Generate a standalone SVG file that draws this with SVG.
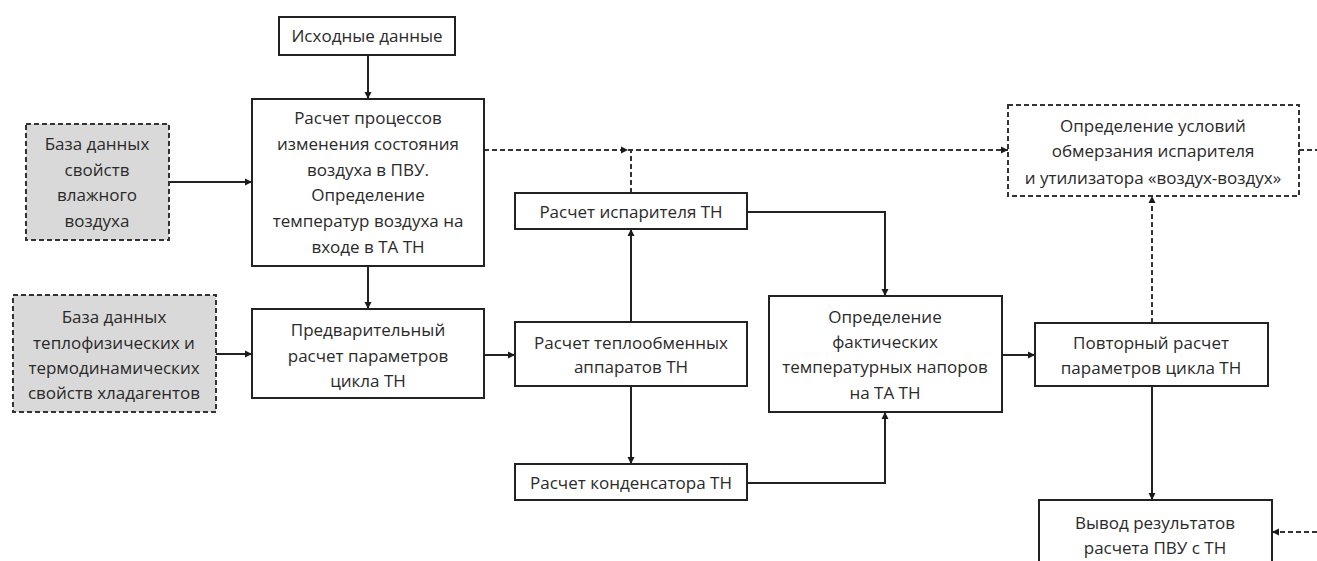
<svg xmlns="http://www.w3.org/2000/svg" width="1317" height="561" viewBox="0 0 1317 561">
<defs>
<marker id="ah" markerUnits="userSpaceOnUse" markerWidth="8" markerHeight="8" refX="7" refY="4" orient="auto">
<path d="M0,0.5 L7,4 L0,7.5 Z" fill="#1a1a1a"/>
</marker>
<style>
.box{fill:#fff;stroke:#222;stroke-width:2}
.db{fill:#d9d9d9;stroke:#333;stroke-width:2;stroke-dasharray:5 3}
.dbox{fill:#fff;stroke:#333;stroke-width:2;stroke-dasharray:5 3}
.t{font-family:"Open Sans","DejaVu Sans",sans-serif;font-size:17px;fill:#2a2a2a;text-anchor:middle}
.c{fill:none;stroke:#222;stroke-width:2;marker-end:url(#ah)}
.cd{fill:none;stroke:#333;stroke-width:2;stroke-dasharray:5 3}
.cda{fill:none;stroke:#333;stroke-width:2;stroke-dasharray:5 3;marker-end:url(#ah)}
</style>
</defs>
<rect width="1317" height="561" fill="#fff"/>
<g id="connectors">
<path class="c" d="M368,55 V99"/>
<path class="c" d="M169,182 H252"/>
<path class="c" d="M368,266 V309"/>
<path class="c" d="M216,354 H252"/>
<path class="c" d="M484,355 H515"/>
<path class="c" d="M631,322 V229"/>
<path class="c" d="M631,386 V464"/>
<path class="c" d="M747,212 H885 V296"/>
<path class="c" d="M747,483 H885 V412"/>
<path class="c" d="M1002,355 H1035"/>
<path class="c" d="M1152,386 V500"/>
<path class="cda" d="M484,150 H628"/>
<path class="cd" d="M631,193 V150"/>
<path class="cda" d="M628,150 H1008"/>
<path class="cda" d="M1152,323 V196"/>
<path class="cd" d="M1299,150 H1317"/>
<path class="cda" d="M1317,532 H1272"/>
</g>
<g id="n-input">
<rect class="box" x="279" y="17" width="176" height="38"/>
<text class="t" x="367" y="42">Исходные данные</text>
</g>
<g id="n-air">
<rect class="box" x="252" y="99" width="232" height="167"/>
<text class="t" x="368" y="124">Расчет процессов</text>
<text class="t" x="368" y="150">изменения состояния</text>
<text class="t" x="368" y="176">воздуха в ПВУ.</text>
<text class="t" x="368" y="201">Определение</text>
<text class="t" x="368" y="227">температур воздуха на</text>
<text class="t" x="368" y="253">входе в ТА ТН</text>
</g>
<g id="n-db1">
<rect class="db" x="26" y="124" width="143" height="116"/>
<text class="t" x="97" y="150">База данных</text>
<text class="t" x="97" y="176">свойств</text>
<text class="t" x="97" y="201">влажного</text>
<text class="t" x="97" y="227">воздуха</text>
</g>
<g id="n-db2">
<rect class="db" x="13" y="295" width="203" height="117"/>
<text class="t" x="114" y="323">База данных</text>
<text class="t" x="114" y="349">теплофизических и</text>
<text class="t" x="114" y="374">термодинамических</text>
<text class="t" x="114" y="399">свойств хладагентов</text>
</g>
<g id="n-prelim">
<rect class="box" x="252" y="309" width="232" height="89"/>
<text class="t" x="368" y="336">Предварительный</text>
<text class="t" x="368" y="362">расчет параметров</text>
<text class="t" x="368" y="387">цикла ТН</text>
</g>
<g id="n-evap">
<rect class="box" x="515" y="193" width="232" height="36"/>
<text class="t" x="631" y="218">Расчет испарителя ТН</text>
</g>
<g id="n-hx">
<rect class="box" x="515" y="322" width="232" height="64"/>
<text class="t" x="631" y="349">Расчет теплообменных</text>
<text class="t" x="631" y="373">аппаратов ТН</text>
</g>
<g id="n-cond">
<rect class="box" x="515" y="464" width="232" height="36"/>
<text class="t" x="631" y="489">Расчет конденсатора ТН</text>
</g>
<g id="n-det">
<rect class="box" x="769" y="296" width="233" height="116"/>
<text class="t" x="885" y="323">Определение</text>
<text class="t" x="885" y="348">фактических</text>
<text class="t" x="885" y="373">температурных напоров</text>
<text class="t" x="885" y="399">на ТА ТН</text>
</g>
<g id="n-frost">
<rect class="dbox" x="1008" y="105" width="291" height="91"/>
<text class="t" x="1153" y="132">Определение условий</text>
<text class="t" x="1153" y="157">обмерзания испарителя</text>
<text class="t" x="1153" y="184">и утилизатора «воздух-воздух»</text>
</g>
<g id="n-repeat">
<rect class="box" x="1035" y="323" width="233" height="63"/>
<text class="t" x="1151" y="349">Повторный расчет</text>
<text class="t" x="1151" y="374">параметров цикла ТН</text>
</g>
<g id="n-output">
<rect class="box" x="1039" y="500" width="233" height="75"/>
<text class="t" x="1155" y="529">Вывод результатов</text>
<text class="t" x="1155" y="554">расчета ПВУ с ТН</text>
</g>
</svg>
